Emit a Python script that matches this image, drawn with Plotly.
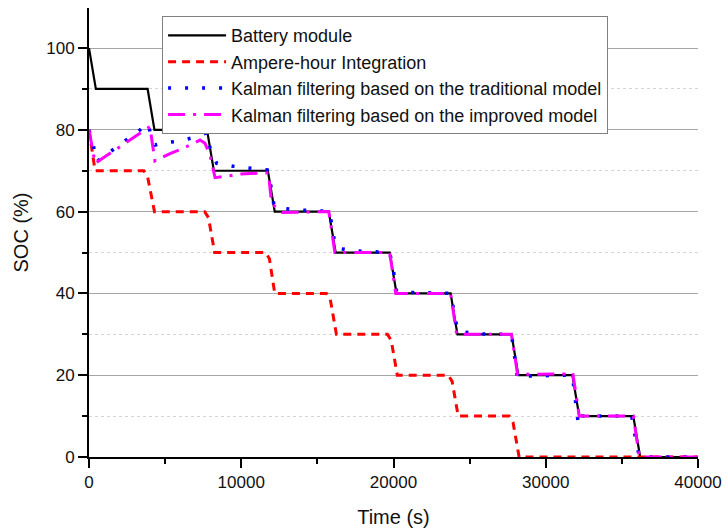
import plotly.graph_objects as go

# Time axis (s) and SOC (%) for each curve
bat_t = [0, 450, 3850, 4300, 7750, 8200, 11750, 12200, 15750, 16200, 19750, 20200,
         23750, 24200, 27750, 28200, 31750, 32200, 35750, 36200, 40000]
bat_soc = [100, 90, 90, 80, 80, 70, 70, 60, 60, 50, 50, 40, 40, 30, 30, 20, 20, 10, 10, 0, 0]

ah_t = [0, 400, 3600, 3850, 4300, 7600, 7850, 8250, 11600, 11850, 12200, 15600, 15850, 16250,
        19600, 19850, 20250, 23600, 23850, 24250, 27600, 27850, 28250, 40000]
ah_soc = [80, 70, 70, 68.5, 60, 60, 58.5, 50, 50, 48.5, 40, 40, 38.5, 30, 30, 28.5, 20, 20,
          18.5, 10, 10, 8.5, 0, 0]

kt_t = [0, 280, 500, 3900, 4110, 4330, 4880, 5980, 6960, 7770, 7950, 8390, 9480, 11710,
        11900, 12150, 12700, 13850, 15750, 15950, 16150, 16400, 17500, 19750, 19990, 20200,
        20500, 23750, 23950, 24200, 24600, 25500, 27750, 27950, 28150, 28600, 31700, 31810,
        31950, 32150, 32400, 35650, 35750, 35900, 36150, 40000]
kt_soc = [80, 76.3, 72.2, 81.5, 77.5, 76.3, 76.8, 77.3, 78.2, 79.3, 75.5, 71.8, 71.1, 70.2,
          67.3, 61.5, 60.8, 60.4, 60.1, 57, 52, 51, 50.4, 50, 45.7, 40.6, 40.3, 40, 36, 31,
          30.6, 30.1, 30, 25, 19.3, 19.8, 20, 18, 13.1, 7.8, 10, 10, 7.4, 4.8, 0, 0]

ki_t = [0, 400, 4000, 4330, 5320, 6200, 7290, 7620, 7950, 8280, 9260, 9920, 11780, 12000,
        12700, 15750, 16150, 19750, 20150, 23750, 24150, 27750, 28150, 31400, 31770, 32200,
        35750, 36150, 40000]
ki_soc = [80, 71.8, 80.8, 72.4, 74.2, 75.5, 77.5, 76.7, 73.8, 68.3, 68.8, 69.2, 69.5, 62,
          59.8, 60, 50, 50, 40, 40, 30, 30, 20.2, 20.3, 20.6, 10, 10, 0, 0]

FONT = "Liberation Sans, Arial, sans-serif"

fig = go.Figure()
fig.add_trace(go.Scatter(x=bat_t, y=bat_soc, mode="lines", name="Battery module",
                         line=dict(color="black", width=2.2)))
fig.add_trace(go.Scatter(x=ah_t, y=ah_soc, mode="lines", name="Ampere-hour Integration",
                         line=dict(color="#ff0000", width=3, dash="8px,6px")))
fig.add_trace(go.Scatter(x=kt_t, y=kt_soc, mode="lines",
                         name="Kalman filtering based on the traditional model",
                         line=dict(color="#0000ff", width=3.5, dash="3px,14px")))
fig.add_trace(go.Scatter(x=ki_t, y=ki_soc, mode="lines",
                         name="Kalman filtering based on the improved model",
                         line=dict(color="#ff00ff", width=3, dash="17px,8px,3px,8px")))

fig.update_layout(
    width=722, height=530,
    margin=dict(l=89, r=24, t=8, b=73),
    paper_bgcolor="white", plot_bgcolor="white",
    font=dict(family=FONT, size=17, color="#111111"),
    showlegend=True,
    legend=dict(x=0.12, y=0.982, xanchor="left", yanchor="top",
                bgcolor="white", bordercolor="#808080", borderwidth=1,
                itemwidth=58, tracegroupgap=0,
                font=dict(family=FONT, size=18, color="#111111")),
)

fig.update_xaxes(
    range=[0, 40000], dtick=10000, tick0=0, tickformat="d", automargin=False,
    showline=True, linecolor="black", linewidth=2,
    ticks="outside", ticklen=9, tickwidth=1.5, tickcolor="black",
    showgrid=False, zeroline=False,
    minor=dict(dtick=5000, ticks="outside", ticklen=5, tickwidth=1.5, tickcolor="black",
               showgrid=False),
    title=dict(text="Time (s)", standoff=19),
)

fig.update_yaxes(
    range=[0, 109.8], dtick=20, tick0=0, automargin=False,
    showline=True, linecolor="black", linewidth=2,
    ticks="outside", ticklen=9, tickwidth=1.5, tickcolor="black",
    showgrid=True, gridcolor="#a6a6a6", gridwidth=1, zeroline=False,
    minor=dict(dtick=10, ticks="outside", ticklen=5, tickwidth=1.5, tickcolor="black",
               showgrid=True, gridcolor="#d4d4d4", gridwidth=1, griddash="dot"),
    title=dict(text="SOC (%)", standoff=12),
)

fig.write_html("out.html")
